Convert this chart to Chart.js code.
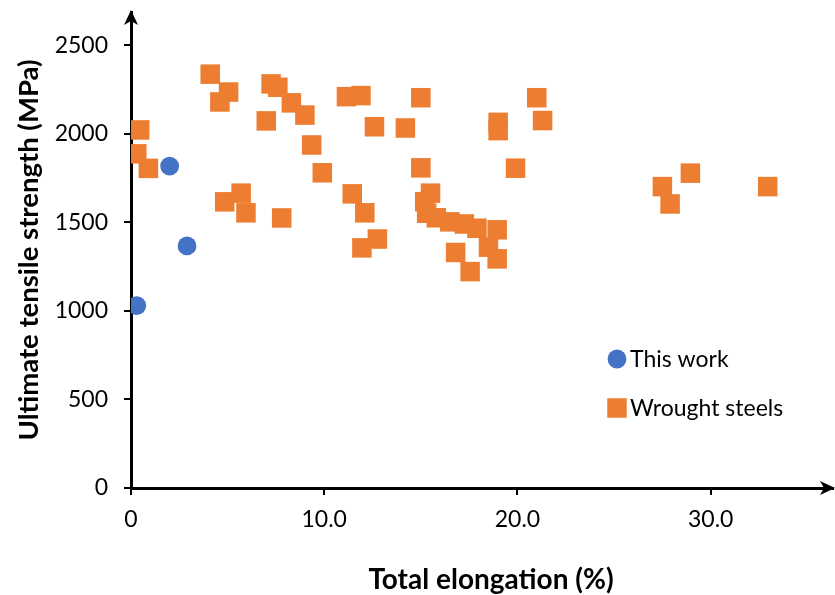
<!DOCTYPE html>
<html>
<head>
<meta charset="utf-8">
<script src="https://cdn.jsdelivr.net/npm/chart.js@4.4.1/dist/chart.umd.min.js"></script>
<style>
  html, body { margin: 0; padding: 0; background: #ffffff; }
  #wrap { width: 835px; height: 595px; }
</style>
</head>
<body>
<div id="wrap"><canvas id="c" width="835" height="595"></canvas></div>
<script>
// Series names
const seriesNames = ['This work', 'Wrought steels'];

// This work: total elongation (%) and UTS (MPa)
const workElong = [0.3, 2.0, 2.9];
const workUTS   = [1030, 1818, 1367];

// Wrought steels: total elongation (%) and UTS (MPa)
const steelElong = [0.45, 0.3, 0.9, 4.1, 4.6, 5.05, 4.85, 5.7, 5.95, 7.0,
                    7.25, 7.6, 8.3, 9.0, 9.35, 9.9, 7.8, 11.15, 11.9, 12.6,
                    11.45, 12.1, 11.95, 12.75, 14.2, 15.0, 15.0, 15.5, 15.2, 15.3,
                    15.8, 16.5, 17.25, 17.9, 18.95, 16.8, 17.55, 18.5, 18.95, 19.0,
                    19.0, 19.9, 21.0, 21.3, 27.5, 27.9, 28.95, 32.95];
const steelUTS   = [2022, 1887, 1805, 2337, 2180, 2236, 1616, 1665, 1554, 2073,
                    2282, 2263, 2175, 2106, 1937, 1780, 1525, 2210, 2216, 2040,
                    1661, 1554, 1356, 1406, 2033, 2204, 1808, 1665, 1617, 1552,
                    1526, 1503, 1491, 1467, 1458, 1330, 1222, 1360, 1294, 2065,
                    2018, 1806, 2204, 2075, 1702, 1604, 1778, 1702];

// Axis ticks and titles
const xTickValues = [0, 10, 20, 30];
const xTickLabels = ['0', '10.0', '20.0', '30.0'];
const yTickValues = [0, 500, 1000, 1500, 2000, 2500];
const yTickLabels = ['0', '500', '1000', '1500', '2000', '2500'];
const xTitle = 'Total elongation (%)';
const yTitle = 'Ultimate tensile strength (MPa)';

const BLUE = '#4472C4';
const ORANGE = '#ED7D31';
const FONT = 'Lato, "Open Sans", sans-serif';

function toPoints(xs, ys) {
  return xs.map((x, i) => ({ x: x, y: ys[i] }));
}

// Keep the plot box exactly where the axes are placed (no label overhang padding)
function noOverhang(s) {
  s.paddingTop = 0;
  s.paddingBottom = 0;
  s.paddingLeft = 0;
  s.paddingRight = 0;
}

// Axis arrows, x-axis title and the in-plot legend
const decorations = {
  id: 'decorations',
  afterDraw(chart) {
    const ctx = chart.ctx;
    const area = chart.chartArea;
    const x0 = chart.scales.x.getPixelForValue(0);
    const y0 = chart.scales.y.getPixelForValue(0);
    ctx.save();
    ctx.fillStyle = '#000';

    // arrow at the top of the y axis
    const ty = area.top - 2;
    ctx.beginPath();
    ctx.moveTo(x0, ty);
    ctx.lineTo(x0 + 7, ty + 15);
    ctx.lineTo(x0, ty + 11);
    ctx.lineTo(x0 - 7, ty + 15);
    ctx.closePath();
    ctx.fill();

    // arrow at the right end of the x axis
    const tx = area.right + 2;
    ctx.beginPath();
    ctx.moveTo(tx, y0);
    ctx.lineTo(tx - 15, y0 - 7);
    ctx.lineTo(tx - 11, y0);
    ctx.lineTo(tx - 15, y0 + 7);
    ctx.closePath();
    ctx.fill();

    // x-axis title
    ctx.font = 'bold 28px ' + FONT;
    ctx.textAlign = 'center';
    ctx.textBaseline = 'middle';
    ctx.fillText(xTitle, 491, 580);

    // legend
    const ds = chart.data.datasets;
    const lx = 617, ly = [359, 408];
    ctx.font = '23px ' + FONT;
    ctx.textAlign = 'left';
    ds.forEach((d, i) => {
      ctx.fillStyle = d.backgroundColor;
      ctx.beginPath();
      if (d.pointStyle === 'circle') {
        ctx.arc(lx, ly[i], d.pointRadius, 0, Math.PI * 2);
      } else {
        const h = d.pointRadius * Math.SQRT1_2;
        ctx.rect(lx - h, ly[i] - h, 2 * h, 2 * h);
      }
      ctx.fill();
      ctx.fillStyle = '#000';
      ctx.fillText(d.label, 630, ly[i] + 1);
    });
    ctx.restore();
  }
};

new Chart(document.getElementById('c'), {
  type: 'scatter',
  data: {
    datasets: [
      {
        label: seriesNames[0],
        data: toPoints(workElong, workUTS),
        pointStyle: 'circle',
        pointRadius: 9.4,
        backgroundColor: BLUE,
        borderWidth: 0
      },
      {
        label: seriesNames[1],
        data: toPoints(steelElong, steelUTS),
        pointStyle: 'rect',
        pointRadius: 13.8,
        backgroundColor: ORANGE,
        borderWidth: 0
      }
    ]
  },
  options: {
    responsive: false,
    animation: false,
    devicePixelRatio: 1,
    layout: { autoPadding: false, padding: { top: 12, right: 2, left: 0, bottom: 0 } },
    plugins: { legend: { display: false }, tooltip: { enabled: false } },
    scales: {
      x: {
        type: 'linear',
        min: 0,
        max: 36.33,
        afterBuildTicks: s => { s.ticks = xTickValues.map(v => ({ value: v })); },
        afterFit: s => { s.height = 107; noOverhang(s); },
        ticks: {
          callback: v => xTickLabels[xTickValues.indexOf(v)],
          font: { family: FONT, size: 23 },
          color: '#000',
          padding: 11,
          maxRotation: 0,
          autoSkip: false
        },
        grid: { display: true, drawOnChartArea: false, drawTicks: true, tickLength: 7, color: '#000', lineWidth: 2 },
        border: { display: true, color: '#000', width: 3 }
      },
      y: {
        type: 'linear',
        min: 0,
        max: 2688,
        afterBuildTicks: s => { s.ticks = yTickValues.map(v => ({ value: v })); },
        afterFit: s => { s.width = 131; noOverhang(s); },
        ticks: {
          callback: v => yTickLabels[yTickValues.indexOf(v)],
          font: { family: FONT, size: 23 },
          color: '#000',
          padding: 16,
          autoSkip: false
        },
        grid: { display: true, drawOnChartArea: false, drawTicks: true, tickLength: 7, color: '#000', lineWidth: 2 },
        border: { display: true, color: '#000', width: 3 },
        title: {
          display: true,
          text: yTitle,
          color: '#000',
          font: { family: FONT, size: 27.5, weight: 'bold' },
          padding: { top: 13, bottom: 0 }
        }
      }
    }
  },
  plugins: [decorations]
});
</script>
</body>
</html>
